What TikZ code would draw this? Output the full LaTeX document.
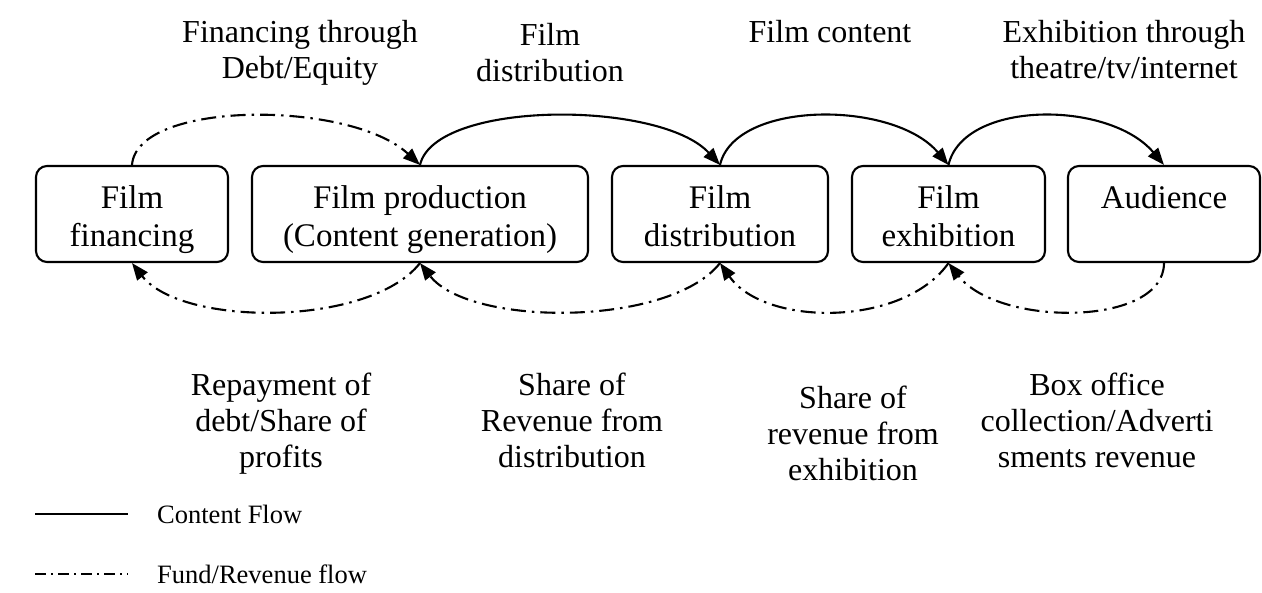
\documentclass[tikz,border=0pt]{standalone}
\usepackage{fontspec}
\setmainfont{Liberation Serif}
\usetikzlibrary{arrows.meta}
\begin{document}
\begin{tikzpicture}[x=1pt,y=-1pt,
  box/.style={draw, line width=2.1pt, rounded corners=11pt, inner sep=0pt, minimum height=96pt},
  boxtext/.style={anchor=north, align=center, inner sep=0pt, font=\fontsize{33}{38}\selectfont},
  lbl/.style={anchor=north, align=center, inner sep=0pt, font=\fontsize{32}{36}\selectfont},
  content/.style={line width=2.1pt, -{Triangle[length=17pt,width=13pt]}},
  fund/.style={line width=2.1pt, dash pattern=on 15pt off 6pt on 2.5pt off 6pt, -{Triangle[length=17pt,width=13pt]}},
  legtext/.style={anchor=west, inner sep=0pt, font=\fontsize{26.5}{30}\selectfont}
]
\useasboundingbox (0,0) rectangle (1262,593);
% boxes
\node[box, minimum width=192pt] (fin) at (132,214) {};
\node[box, minimum width=336pt] (prod) at (420,214) {};
\node[box, minimum width=216pt] (dist) at (720,214) {};
\node[box, minimum width=193pt] (exh) at (948.5,214) {};
\node[box, minimum width=192pt] (aud) at (1164,214) {};
\node[boxtext] (fint) at (fin.center |- 0,185) {Film\\financing};
\node[boxtext] (prodt) at (prod.center |- 0,185) {Film production\\(Content generation)};
\node[boxtext] (distt) at (dist.center |- 0,185) {Film\\distribution};
\node[boxtext] (exht) at (exh.center |- 0,185) {Film\\exhibition};
\node[boxtext] (audt) at (aud.center |- 0,185) {Audience};
% top arcs
\draw[fund] (fin.north) .. controls +(5,-65) and +(-70,-65) .. (prod.north);
\draw[content] (prod.north) .. controls +(15,-65) and +(-60,-65) .. (dist.north);
\draw[content] (dist.north) .. controls +(15,-65) and +(-55,-65) .. (exh.north);
\draw[content] (exh.north) .. controls +(15,-65) and +(-55,-65) .. (aud.north);
% bottom arcs
\draw[fund] (prod.south) .. controls +(-50,64) and +(50,64) .. (fin.south);
\draw[fund] (dist.south) .. controls +(-50,64) and +(50,64) .. (prod.south);
\draw[fund] (exh.south) .. controls +(-45,64) and +(45,64) .. (dist.south);
\draw[fund] (aud.south) .. controls +(0,64) and +(50,64) .. (exh.south);
% top labels
\node[lbl] (l1) at (300,20) {Financing through\\Debt/Equity};
\node[lbl] (l2) at (550,23) {Film\\distribution};
\node[lbl] (l3) at (830,20) {Film content};
\node[lbl] (l4) at (1124,20) {Exhibition through\\theatre/tv/internet};
% bottom labels
\node[lbl] (b1) at (281,373) {Repayment of\\debt/Share of\\profits};
\node[lbl] (b2) at (572,373) {Share of\\Revenue from\\distribution};
\node[lbl] (b3) at (853,386) {Share of\\revenue from\\exhibition};
\node[lbl] (b4) at (1097,373) {Box office\\collection/Adverti\\sments revenue};
% legend
\coordinate (la) at (35,514);
\coordinate (lb) at (128,514);
\coordinate (lc) at (35,574);
\coordinate (ld) at (128,574);
\draw[line width=1.8pt] (la) -- (lb);
\draw[line width=1.8pt, dash pattern=on 11pt off 5pt on 2pt off 5pt] (lc) -- (ld);
\node[legtext] (lt1) at (157,514) {Content Flow};
\node[legtext] (lt2) at (157,574) {Fund/Revenue flow};
\end{tikzpicture}
\end{document}
